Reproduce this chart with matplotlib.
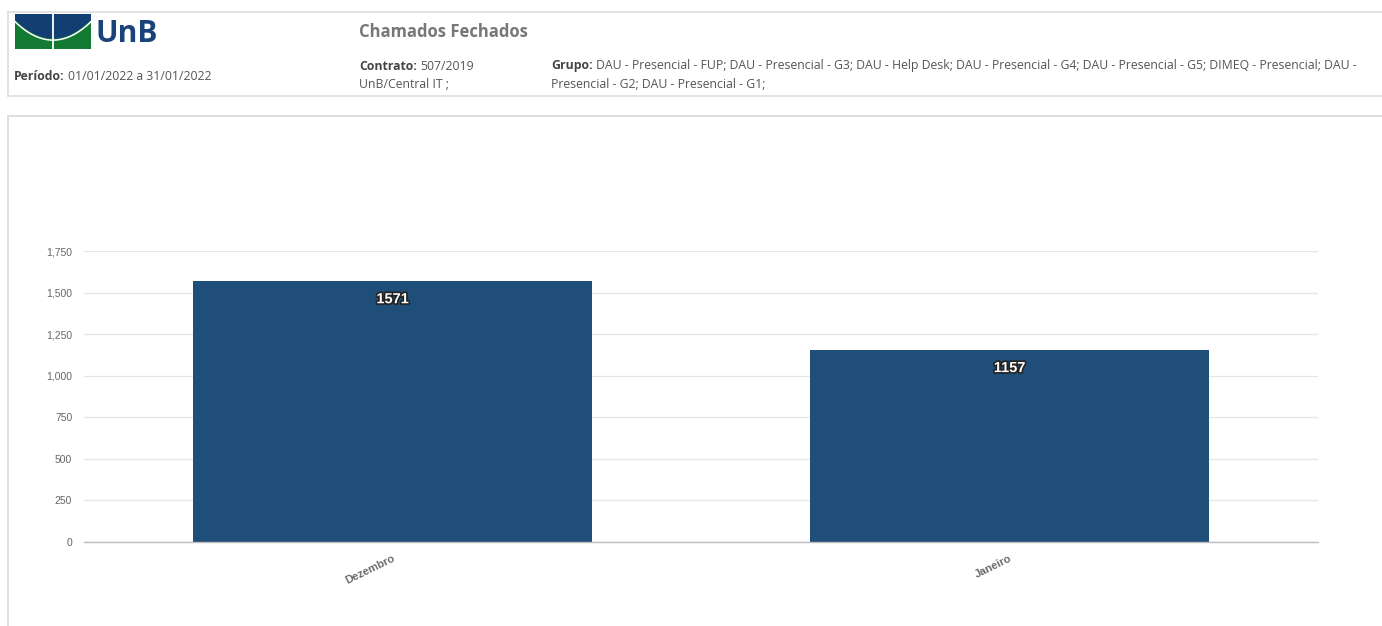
import matplotlib
matplotlib.use("Agg")
import matplotlib.pyplot as plt
import matplotlib.patheffects as pe
from matplotlib.patches import Rectangle, Polygon
import numpy as np

# ---- data ----
categories = ["Dezembro", "Janeiro"]
values = [1571, 1157]
y_ticks = [0, 250, 500, 750, 1000, 1250, 1500, 1750]
title_text = "Chamados Fechados"
periodo_label = "Período:"
periodo_value = "01/01/2022 a 31/01/2022"
contrato_label = "Contrato:"
contrato_value = "507/2019"
contrato_line2 = "UnB/Central IT ;"
grupo_label = "Grupo:"
grupo_line1 = ("DAU - Presencial - FUP; DAU - Presencial - G3; DAU - Help Desk; DAU - Presencial - G4; "
               "DAU - Presencial - G5; DIMEQ - Presencial; DAU -")
grupo_line2 = "Presencial - G2; DAU - Presencial - G1;"

W, H = 1382, 626
DPI = 100
fig = plt.figure(figsize=(W / DPI, H / DPI), dpi=DPI)
fig.patch.set_facecolor("white")

BAR_COLOR = "#1f4e79"
HDR_FONT = "Open Sans"
HDR_SIZE = 8.8

# overlay axes in pixel coordinates for decoration
ov = fig.add_axes([0, 0, 1, 1], zorder=0)
ov.set_xlim(0, W)
ov.set_ylim(H, 0)
ov.axis("off")

border = "#dedede"
# header box
ov.plot([8, W + 5], [11.5, 11.5], color=border, lw=1.2)
ov.plot([8, W + 5], [96, 96], color=border, lw=1.2)
ov.plot([8, 8], [11.5, 96], color=border, lw=1.2)
# chart panel
ov.plot([8, W + 5], [115.5, 115.5], color=border, lw=1.4)
ov.plot([8, 8], [115.5, H + 5], color=border, lw=1.4)

# logo
green = "#137a33"
blue = "#123f73"
ov.add_patch(Rectangle((15, 14), 76, 35, facecolor=green, edgecolor="none"))
xs = np.linspace(15, 91, 60)
curve = 38.5 - 18.5 * ((xs - 53) / 38) ** 2
poly = [(15, 14), (91, 14)] + list(zip(xs[::-1], curve[::-1]))
ov.add_patch(Polygon(poly, closed=True, facecolor=blue, edgecolor="none"))
ov.plot(xs, curve + 1.6, color="white", lw=1.1)
ov.plot([53, 53], [14, 49], color="white", lw=1.3)
ov.text(96, 34, "UnB", fontsize=21.5, fontweight="bold", color="#1a4479",
        family="Open Sans", va="center", ha="left")

renderer = fig.canvas.get_renderer()


def label_value(x, y, lab, val, size=HDR_SIZE):
    t = ov.text(x, y, lab, fontsize=size, fontweight="bold", color="#444444",
                family=HDR_FONT, va="center", ha="left")
    bb = t.get_window_extent(renderer=renderer)
    w = bb.width  # pixels
    ov.text(x + w + 3, y, val, fontsize=size, color="#555555",
            family=HDR_FONT, va="center", ha="left")


label_value(14, 76, periodo_label, periodo_value)
label_value(359, 66, contrato_label, contrato_value)
ov.text(359, 85, contrato_line2, fontsize=HDR_SIZE, color="#555555", family=HDR_FONT,
        va="center", ha="left")
label_value(551, 66, grupo_label, grupo_line1)
ov.text(551, 85, grupo_line2, fontsize=HDR_SIZE, color="#555555", family=HDR_FONT,
        va="center", ha="left")
ov.text(359, 32, title_text, fontsize=12.0, fontweight="bold", color="#777777",
        family=HDR_FONT, va="center", ha="left")

# chart axes
left, right, top, bottom = 84, 1318, 251, 542
ax = fig.add_axes([left / W, 1 - bottom / H, (right - left) / W, (bottom - top) / H], zorder=1)
ax.patch.set_alpha(0)
x = np.arange(len(categories))
bars = ax.bar(x, values, width=0.648, color=BAR_COLOR, zorder=2)
ax.set_xlim(-0.5, len(categories) - 0.5)
ax.set_ylim(0, 1750)
ax.set_yticks(y_ticks)
ax.set_yticklabels([f"{v:,}" for v in y_ticks], fontsize=7.5, color="#666666",
                   family="Liberation Sans")
ax.yaxis.grid(True, color="#e6e6e6", lw=0.9, zorder=0)
ax.set_axisbelow(True)
ax.tick_params(axis="y", length=0, pad=8.5)
ax.tick_params(axis="x", length=0, pad=8)
ax.set_xticks(x)
ax.set_xticklabels(categories, rotation=26, ha="right", va="top", rotation_mode="anchor",
                   fontsize=8, fontweight="bold", color="#6a6a6a", family="Liberation Sans")
for s in ["top", "right", "left"]:
    ax.spines[s].set_visible(False)
ax.spines["bottom"].set_color("#bdbdbd")
ax.spines["bottom"].set_linewidth(1.0)

for xi, v in zip(x, values):
    ax.annotate(str(v), (xi, v), xytext=(0, -13.3), textcoords="offset points",
                ha="center", va="center", fontsize=10.5, fontweight="bold",
                color="white", family="Liberation Sans",
                path_effects=[pe.withStroke(linewidth=2.4, foreground="#222222")], zorder=3)

fig.savefig("out.png", dpi=DPI)
